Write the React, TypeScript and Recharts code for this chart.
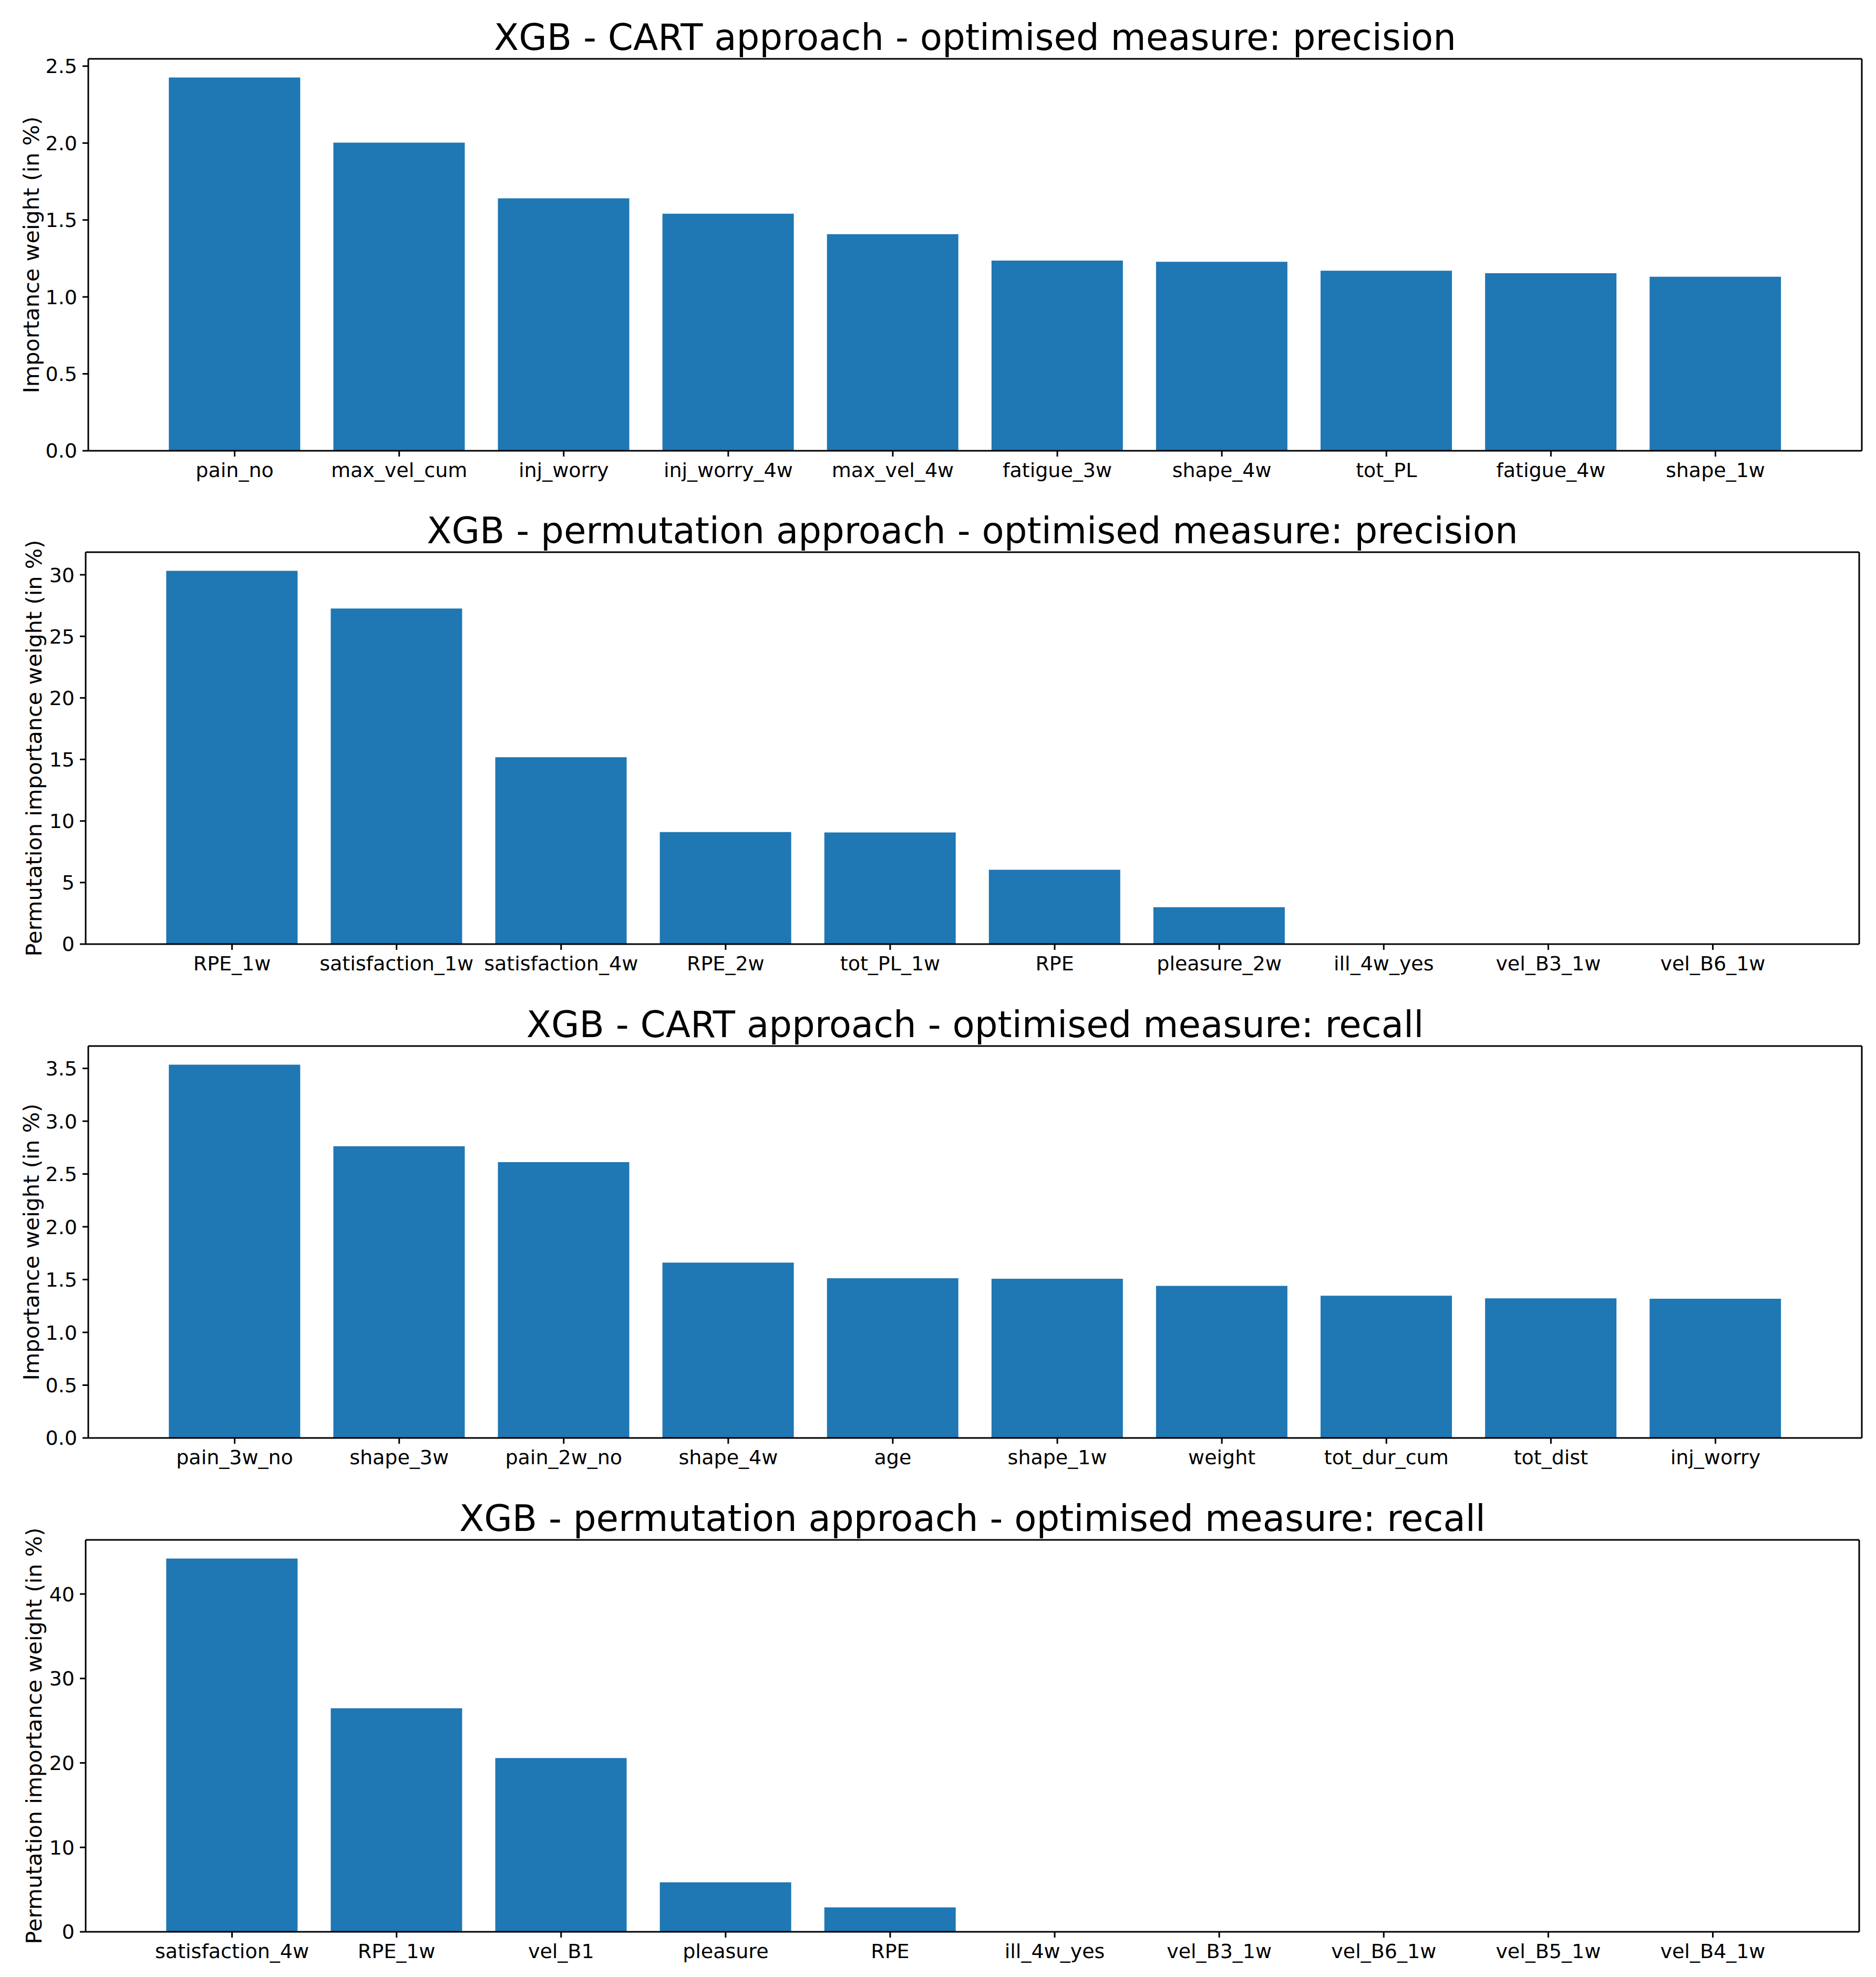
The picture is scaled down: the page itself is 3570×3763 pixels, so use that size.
import React from 'react'
import { BarChart, Bar, XAxis, YAxis } from 'recharts'

const FONT = 'DejaVu Sans, sans-serif'
const BLUE = '#1f77b4'

// panel 1: XGB - CART, precision
const cartPrecisionNames = ['pain_no', 'max_vel_cum', 'inj_worry', 'inj_worry_4w', 'max_vel_4w', 'fatigue_3w', 'shape_4w', 'tot_PL', 'fatigue_4w', 'shape_1w']
const cartPrecisionValues = [2.426, 2.003, 1.641, 1.541, 1.408, 1.236, 1.228, 1.170, 1.154, 1.131]
const cartPrecisionTicks = [0, 0.5, 1.0, 1.5, 2.0, 2.5]

// panel 2: XGB - permutation, precision
const permPrecisionNames = ['RPE_1w', 'satisfaction_1w', 'satisfaction_4w', 'RPE_2w', 'tot_PL_1w', 'RPE', 'pleasure_2w', 'ill_4w_yes', 'vel_B3_1w', 'vel_B6_1w']
const permPrecisionValues = [30.32, 27.26, 15.18, 9.10, 9.07, 6.04, 3.0, 0, 0, 0]
const permPrecisionTicks = [0, 5, 10, 15, 20, 25, 30]

// panel 3: XGB - CART, recall
const cartRecallNames = ['pain_3w_no', 'shape_3w', 'pain_2w_no', 'shape_4w', 'age', 'shape_1w', 'weight', 'tot_dur_cum', 'tot_dist', 'inj_worry']
const cartRecallValues = [3.535, 2.763, 2.612, 1.660, 1.512, 1.507, 1.441, 1.347, 1.322, 1.319]
const cartRecallTicks = [0, 0.5, 1.0, 1.5, 2.0, 2.5, 3.0, 3.5]

// panel 4: XGB - permutation, recall
const permRecallNames = ['satisfaction_4w', 'RPE_1w', 'vel_B1', 'pleasure', 'RPE', 'ill_4w_yes', 'vel_B3_1w', 'vel_B6_1w', 'vel_B5_1w', 'vel_B4_1w']
const permRecallValues = [44.2, 26.47, 20.58, 5.86, 2.89, 0, 0, 0, 0, 0]
const permRecallTicks = [0, 10, 20, 30, 40]

const CHART_W = 3570
const CHART_H = 940
const PLOT_W = 3375
const PLOT_TOP = 112
const PLOT_H = 746

const TICK_FS = 38
const LABEL_FS = 41.5
const TITLE_FS = 69

interface PanelProps {
  title: string
  yLabel: string
  names: string[]
  values: number[]
  ticks: number[]
  decimals: number
  left: number
  labelX: number
  top: number
}

function Panel({ title, yLabel, names, values, ticks, decimals, left, labelX, top }: PanelProps) {
  const data = names.map((name, i) => ({ name, value: values[i] }))
  const maxVal = Math.max(...values)
  const domain = [0, maxVal * 1.05]
  const unit = PLOT_W / 10.78
  const pad = Math.round(unit * 0.39)
  const line = { stroke: '#000', strokeWidth: 3 }

  return (
    <div style={{ position: 'absolute', left: 0, top, width: CHART_W, height: CHART_H }}>
      <BarChart
        width={CHART_W}
        height={CHART_H}
        data={data}
        barCategoryGap="10%"
        margin={{ top: PLOT_TOP - 1, right: CHART_W - left - PLOT_W - 1, bottom: 0, left: 0 }}
      >
        <XAxis
          dataKey="name"
          interval={0}
          height={CHART_H - PLOT_TOP - PLOT_H}
          padding={{ left: pad, right: pad }}
          tickSize={11}
          tickMargin={12}
          axisLine={line}
          tickLine={line}
          tick={{ fill: '#000', fontSize: TICK_FS, fontFamily: FONT }}
        />
        {/* top spine + title */}
        <XAxis
          xAxisId="top"
          dataKey="name"
          orientation="top"
          height={1}
          padding={{ left: pad, right: pad }}
          tick={false}
          tickLine={false}
          axisLine={line}
          label={(props: any) => {
            const vb = props.viewBox
            return (
              <text
                x={vb.x + vb.width / 2}
                y={vb.y + vb.height - 17}
                textAnchor="middle"
                fontSize={TITLE_FS}
                fontFamily={FONT}
                fill="#000"
              >
                {title}
              </text>
            )
          }}
        />
        <YAxis
          width={left}
          domain={domain}
          ticks={ticks}
          tickFormatter={(v: number) => v.toFixed(decimals)}
          tickSize={11}
          tickMargin={10}
          axisLine={line}
          tickLine={line}
          tick={{ fill: '#000', fontSize: TICK_FS, fontFamily: FONT }}
          label={(props: any) => {
            const vb = props.viewBox
            const cy = vb.y + vb.height / 2
            const x = vb.x + labelX
            return (
              <text
                x={x}
                y={cy}
                transform={`rotate(-90, ${x}, ${cy})`}
                textAnchor="middle"
                fontSize={LABEL_FS}
                fontFamily={FONT}
                fill="#000"
              >
                {yLabel}
              </text>
            )
          }}
        />
        {/* right spine */}
        <YAxis
          yAxisId="right"
          orientation="right"
          width={1}
          domain={domain}
          tick={false}
          tickLine={false}
          axisLine={line}
        />
        <Bar dataKey="value" fill={BLUE} isAnimationActive={false} />
        <Bar xAxisId="top" yAxisId="right" dataKey="value" fill="none" isAnimationActive={false} />
      </BarChart>
    </div>
  )
}

export default function App() {
  return (
    <div style={{ position: 'absolute', left: 0, top: 0, width: 3570, height: 3763, background: '#fff' }}>
      <Panel
        title="XGB - CART approach - optimised measure: precision"
        yLabel="Importance weight (in %)"
        names={cartPrecisionNames}
        values={cartPrecisionValues}
        ticks={cartPrecisionTicks}
        decimals={1}
        left={168}
        labelX={74}
        top={0}
      />
      <Panel
        title="XGB - permutation approach - optimised measure: precision"
        yLabel="Permutation importance weight (in %)"
        names={permPrecisionNames}
        values={permPrecisionValues}
        ticks={permPrecisionTicks}
        decimals={0}
        left={163}
        labelX={79}
        top={939}
      />
      <Panel
        title="XGB - CART approach - optimised measure: recall"
        yLabel="Importance weight (in %)"
        names={cartRecallNames}
        values={cartRecallValues}
        ticks={cartRecallTicks}
        decimals={1}
        left={168}
        labelX={74}
        top={1879}
      />
      <Panel
        title="XGB - permutation approach - optimised measure: recall"
        yLabel="Permutation importance weight (in %)"
        names={permRecallNames}
        values={permRecallValues}
        ticks={permRecallTicks}
        decimals={0}
        left={163}
        labelX={79}
        top={2819}
      />
    </div>
  )
}
